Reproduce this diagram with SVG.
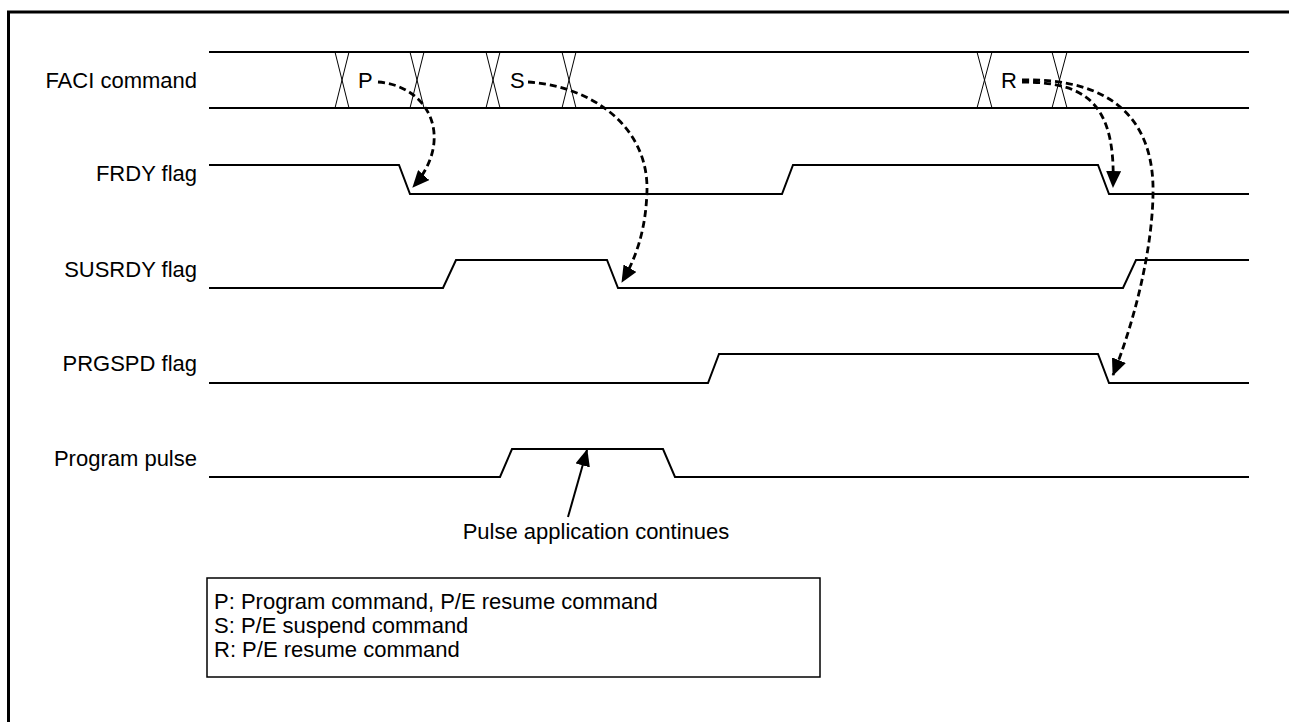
<svg xmlns="http://www.w3.org/2000/svg" width="1289" height="722" viewBox="0 0 1289 722">
<defs>
<style>
.lbl{font-family:"Liberation Sans",Arial,sans-serif;font-size:22px;fill:#000}
.sig{fill:none;stroke:#000;stroke-width:2}
.bus{fill:none;stroke:#000;stroke-width:2}
.x{fill:none;stroke:#000;stroke-width:1}
.dash{fill:none;stroke:#000;stroke-width:2.8;stroke-dasharray:7 4;marker-end:url(#ah)}
.solid{fill:none;stroke:#000;stroke-width:2;marker-end:url(#ah)}
</style>
<marker id="ah" viewBox="0 0 17 15" refX="16" refY="7.5" markerWidth="17" markerHeight="15" markerUnits="userSpaceOnUse" orient="auto">
<path d="M0,0 L17,7.5 L0,15 z" fill="#000"/>
</marker>
</defs>
<rect x="0" y="0" width="1289" height="722" fill="#fff"/>
<path d="M8.5,730 V12 H1300" fill="none" stroke="#000" stroke-width="3"/>

<g id="faci">
<text class="lbl" x="197" y="88" text-anchor="end">FACI command</text>
<path class="bus" d="M209,52 H1249 M209,108 H1249"/>
<path class="x" d="M335,52 L349,108 M349,52 L335,108 M410,52 L424,108 M424,52 L410,108 M486,52 L500,108 M500,52 L486,108 M562,52 L576,108 M576,52 L562,108 M977,52 L992,108 M992,52 L977,108 M1052,52 L1067,108 M1067,52 L1052,108"/>
<text class="lbl" x="358" y="88">P</text>
<text class="lbl" x="510" y="88">S</text>
<text class="lbl" x="1001" y="88">R</text>
</g>

<g id="frdy">
<text class="lbl" x="197" y="181" text-anchor="end">FRDY flag</text>
<path class="sig" d="M209,165 H399 L410,194 H782 L793,165 H1098 L1109,194 H1249"/>
</g>

<g id="susrdy">
<text class="lbl" x="197" y="277" text-anchor="end">SUSRDY flag</text>
<path class="sig" d="M209,288 H443 L456,260 H607 L618,288 H1123 L1136,260 H1249"/>
</g>

<g id="prgspd">
<text class="lbl" x="197" y="371" text-anchor="end">PRGSPD flag</text>
<path class="sig" d="M209,383 H708 L719,354 H1098 L1109,383 H1249"/>
</g>

<g id="pulse">
<text class="lbl" x="197" y="466" text-anchor="end">Program pulse</text>
<path class="sig" d="M209,477 H500 L512,449 H663 L675,477 H1249"/>
<text class="lbl" x="596" y="539" text-anchor="middle">Pulse application continues</text>
</g>

<g id="legend">
<rect x="207" y="578" width="613" height="99" fill="none" stroke="#000" stroke-width="1.5"/>
<text class="lbl" x="214" y="609">P: Program command, P/E resume command</text>
<text class="lbl" x="214" y="633">S: P/E suspend command</text>
<text class="lbl" x="214" y="657">R: P/E resume command</text>
</g>

<g id="connectors">
<path class="dash" d="M378,82 C430,86 455,140 413,187"/>
<path class="dash" d="M528,82 C590,86 648,125 647,190 C646,230 636,258 622,282"/>
<path class="dash" d="M1022,82 C1088,82 1116,105 1113,187"/>
<path class="dash" d="M1022,80 C1110,78 1155,118 1153,195 C1152,250 1135,320 1113,375"/>
<path class="solid" d="M568,517 L587,450"/>
</g>
</svg>
